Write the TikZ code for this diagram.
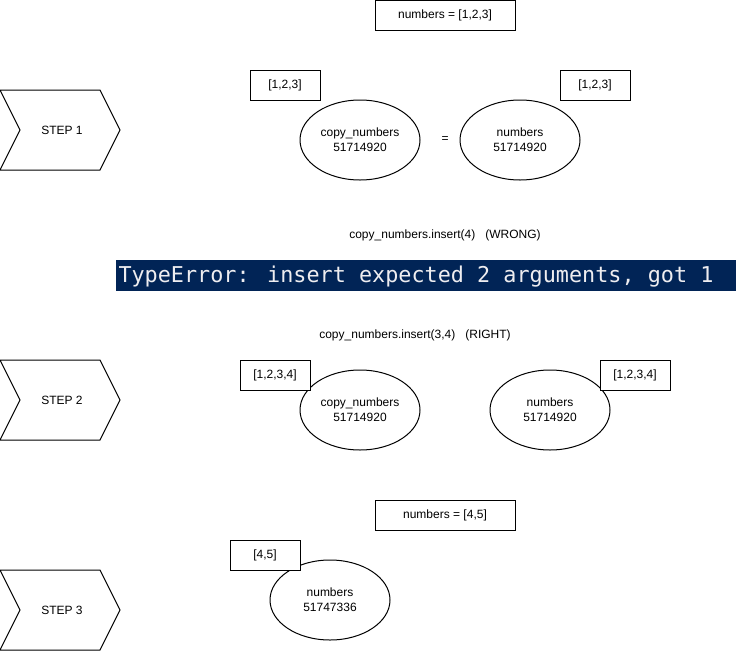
\documentclass[tikz,border=0pt]{standalone}
\usepackage{fontspec}
\setmainfont{Liberation Sans}
\newfontfamily\monofont{DejaVu Sans Mono}
\usetikzlibrary{shapes.geometric}
\definecolor{psblue}{HTML}{012456}
\definecolor{pstext}{HTML}{EEEDF0}
\begin{document}
\begin{tikzpicture}[x=1pt,y=-1pt,line width=1pt,
  font=\fontsize{12}{15}\selectfont,
  membox/.style={draw,fill=white,rectangle,minimum width=70pt,minimum height=30pt,inner sep=0pt},
  wideb/.style={draw,fill=white,rectangle,minimum width=140pt,minimum height=30pt,inner sep=0pt},
  var/.style={draw,fill=white,ellipse,minimum width=120pt,minimum height=80pt,inner sep=0pt,align=center,font=\fontsize{12}{15}\selectfont},
  lbl/.style={inner sep=0pt}]
\useasboundingbox (0,0) rectangle (736,651);

% chevrons
\foreach \yy/\nm in {90/1,360/2,570/3}{
  \draw[fill=white] (0,\yy) -- (100,\yy) -- (120,\yy+40) -- (100,\yy+80) -- (0,\yy+80) -- (20,\yy+40) -- cycle;
}
\node[lbl] (s1) at (62,130) {STEP 1};
\node[lbl] (s2) at (62,400) {STEP 2};
\node[lbl] (s3) at (62,610) {STEP 3};

% step 1
\node[wideb] (n123) at (445,15) {numbers = [1,2,3]};
\node[var] (c1) at (360,140) {copy\_numbers\\51714920};
\node[var] (n1) at (520,140) {numbers\\51714920};
\node[lbl] (eq) at (445,140) {=};
\node[membox] (b1l) at (285,85) {[1,2,3]};
\node[membox] (b1r) at (595,85) {[1,2,3]};

% wrong
\node[lbl] (wrong) at (445,235) {copy\_numbers.insert(4)\ \ \ (WRONG)};
\fill[psblue] (116,260) rectangle (736,291);
\node[lbl,anchor=base west,text=pstext,font=\monofont\fontsize{21.8}{24}\selectfont] (err) at (118,282) {TypeError: insert expected 2 arguments, got 1};

% step 2
\node[lbl] (right) at (415,335) {copy\_numbers.insert(3,4)\ \ \ (RIGHT)};
\node[var] (c2) at (360,410) {copy\_numbers\\51714920};
\node[var] (n2) at (550,410) {numbers\\51714920};
\node[membox] (b2l) at (275,375) {[1,2,3,4]};
\node[membox] (b2r) at (635,375) {[1,2,3,4]};

% step 3
\node[wideb] (n45) at (445,515) {numbers = [4,5]};
\node[var] (n3) at (330,600) {numbers\\51747336};
\node[membox] (b3) at (265,555) {[4,5]};
\end{tikzpicture}
\end{document}
